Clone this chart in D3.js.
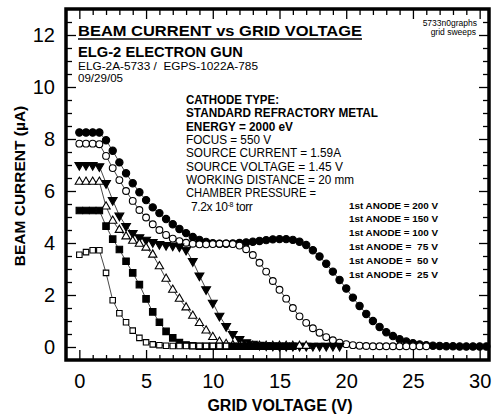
<!DOCTYPE html>
<html>
<head>
<meta charset="utf-8">
<title>Beam current vs grid voltage</title>
<script src="https://d3js.org/d3.v7.min.js"></script>
<style>
  body { margin: 0; background: #fff; }
  svg text { font-family: "Liberation Sans", Arial, sans-serif; fill: #000; }
</style>
</head>
<body>
<div id="chart"></div>
<script>
// grid voltage (V) of each sample
const volts = [0,0.5,1,1.5,2,2.5,3,3.5,4,4.5,5,5.5,6,6.5,7,7.5,8,8.5,9,9.5,10,10.5,11,11.5,12,12.5,13,13.5,14,14.5,15,15.5,16,16.5,17,17.5,18,18.5,19,19.5,20,20.5,21,21.5,22,22.5,23,23.5,24,24.5,25,25.5,26,26.5,27,27.5,28,28.5,29,29.5,30,30.5];

// beam current (uA) for each 1st anode setting, same order as volts
const anode200 = [8.25,8.25,8.25,8.25,7.95,7.55,7.1,6.68,6.3,5.95,5.65,5.37,5.15,4.92,4.72,4.54,4.38,4.23,4.12,4.04,3.99,3.97,3.97,3.98,4.0,4.02,4.05,4.08,4.11,4.14,4.15,4.15,4.12,4.05,3.92,3.72,3.48,3.2,2.9,2.58,2.25,1.9,1.58,1.27,1.0,0.77,0.57,0.42,0.3,0.21,0.15,0.1,0.07,0.05,0.04,0.03,0.03,0.02,0.02,0.02,0.02,0.02];
const anode150 = [7.82,7.82,7.82,7.8,7.35,6.88,6.42,6.0,5.62,5.27,4.98,4.72,4.5,4.31,4.17,4.07,4.01,3.97,3.95,3.95,3.96,3.97,3.98,3.96,3.9,3.76,3.54,3.24,2.9,2.54,2.2,1.86,1.5,1.18,0.93,0.72,0.55,0.38,0.26,0.17,0.11,0.07,0.05,0.04,0.03,0.03,0.03,0.03,0.03,0.03,0.03,0.03,0.03];
const anode100 = [7.0,7.0,7.0,6.95,6.3,5.65,5.05,4.65,4.38,4.22,4.12,4.03,3.96,3.92,3.9,3.86,3.74,3.3,2.75,2.22,1.7,1.2,0.8,0.5,0.3,0.18,0.12,0.08,0.06,0.05,0.04,0.04,0.04,0.04,0.04,0.04,0.04,0.04,0.04,0.04];
const anode75 = [6.35,6.35,6.35,6.35,5.4,4.85,4.5,4.25,4.08,3.97,3.82,3.55,3.1,2.62,2.2,1.85,1.52,1.2,0.92,0.63,0.38,0.2,0.11,0.07,0.05,0.04,0.04,0.04,0.04,0.04,0.04,0.04,0.04,0.04,0.04];
const anode50 = [5.25,5.25,5.25,5.25,4.65,4.15,3.75,3.3,2.85,2.4,1.85,1.35,0.95,0.6,0.35,0.17,0.08,0.05,0.03,0.03,0.03,0.03,0.03,0.03,0.03,0.03,0.03,0.03,0.03,0.03,0.03,0.03,0.03];
const anode25 = [3.55,3.65,3.72,3.72,2.85,1.8,1.3,0.95,0.63,0.35,0.18,0.1,0.07,0.05,0.04,0.04,0.04,0.04,0.04,0.04,0.04,0.04,0.04];

const xMajor = [0,5,10,15,20,25,30];
const yMajor = [0,2,4,6,8,10,12];

const legendLabels = ["1st ANODE = 200 V","1st ANODE = 150 V","1st ANODE = 100 V","1st ANODE =  75 V","1st ANODE =  50 V","1st ANODE =  25 V"];
const headerLines = ["CATHODE TYPE:","STANDARD REFRACTORY METAL","ENERGY = 2000 eV","FOCUS = 550 V","SOURCE CURRENT = 1.59A","SOURCE VOLTAGE = 1.45 V","WORKING DISTANCE = 20 mm","CHAMBER PRESSURE ="];

const W = 492, H = 420;
const svg = d3.select("#chart").append("svg")
    .attr("width", W)
    .attr("height", H);

const x = d3.scaleLinear().domain([-1, 30.7]).range([66, 489]);
const y = d3.scaleLinear().domain([-0.5, 13]).range([360, 9]);

// minor ticks: 1 V on x, 0.5 uA on y
const xMinor = d3.range(0, 31, 1).filter(v => v % 5 !== 0);
const yMinor = d3.range(0, 13, 0.5).filter(v => v % 2 !== 0);

function tickAxis(axis, pos, vals, size, labels) {
    const g = svg.append("g")
        .attr("transform", pos)
        .call(axis.tickValues(vals).tickSize(size).tickFormat(labels ? d3.format("d") : ""));
    g.select(".domain").remove();
    g.selectAll("line").attr("stroke", "#000").attr("stroke-width", 1.3);
    return g;
}

// ticks all point inward
const bx = tickAxis(d3.axisBottom(x).tickPadding(14), "translate(0,360)", xMajor, -10, true);
tickAxis(d3.axisBottom(x), "translate(0,360)", xMinor, -5, false);
tickAxis(d3.axisTop(x), "translate(0,9)", xMajor, -10, false);
tickAxis(d3.axisTop(x), "translate(0,9)", xMinor, -6, false);
const ly = tickAxis(d3.axisLeft(y).tickPadding(11), "translate(66,0)", yMajor, -10, true);
tickAxis(d3.axisLeft(y), "translate(66,0)", yMinor, -6, false);
tickAxis(d3.axisRight(y), "translate(489,0)", yMajor, -10, false);
tickAxis(d3.axisRight(y), "translate(489,0)", yMinor, -6, false);

bx.selectAll("text").style("font-size", "20px").attr("font-family", null);
ly.selectAll("text").style("font-size", "20px").attr("font-family", null);

// frame
svg.append("rect")
    .attr("x", 66).attr("y", 9)
    .attr("width", 423).attr("height", 351)
    .attr("fill", "none")
    .attr("stroke", "#000")
    .attr("stroke-width", 3.5);

// series, drawn 200 V first so the low anode curves sit on top
const series = [
    { vals: anode200, type: d3.symbolCircle, fill: "#000", size: 42, rot: 0 },
    { vals: anode150, type: d3.symbolCircle, fill: "#fff", size: 36, rot: 0 },
    { vals: anode100, type: d3.symbolTriangle, fill: "#000", size: 34, rot: 180 },
    { vals: anode75, type: d3.symbolTriangle, fill: "#fff", size: 30, rot: 0 },
    { vals: anode50, type: d3.symbolSquare, fill: "#000", size: 42, rot: 0 },
    { vals: anode25, type: d3.symbolSquare, fill: "#fff", size: 30, rot: 0 }
];

const line = d3.line()
    .x((d, i) => x(volts[i]))
    .y(d => y(d));

series.forEach(function(s) {
    svg.append("path")
        .datum(s.vals)
        .attr("d", line)
        .attr("fill", "none")
        .attr("stroke", "#333")
        .attr("stroke-width", 0.9);

    svg.append("g").selectAll("path")
        .data(s.vals)
        .join("path")
        .attr("d", d3.symbol().type(s.type).size(s.size))
        .attr("transform", (d, i) => `translate(${x(volts[i])},${y(d)}) rotate(${s.rot})`)
        .attr("fill", s.fill)
        .attr("stroke", "#000")
        .attr("stroke-width", 1.1);
});

// title block
svg.append("text")
    .attr("x", 78).attr("y", 36)
    .attr("textLength", 284).attr("lengthAdjust", "spacingAndGlyphs")
    .style("font-size", "15.5px").style("font-weight", "bold")
    .text("BEAM CURRENT vs GRID VOLTAGE");
svg.append("line")
    .attr("x1", 78).attr("x2", 362)
    .attr("y1", 39).attr("y2", 39)
    .attr("stroke", "#000").attr("stroke-width", 1.6);

svg.append("text").attr("x", 78).attr("y", 57)
    .attr("textLength", 165).attr("lengthAdjust", "spacingAndGlyphs")
    .style("font-size", "14px").style("font-weight", "bold")
    .text("ELG-2 ELECTRON GUN");
svg.append("text").attr("x", 78).attr("y", 70)
    .attr("textLength", 180).attr("lengthAdjust", "spacingAndGlyphs")
    .style("font-size", "11px").style("white-space", "pre")
    .text("ELG-2A-5733 /  EGPS-1022A-785");
svg.append("text").attr("x", 78).attr("y", 82)
    .attr("textLength", 45).attr("lengthAdjust", "spacingAndGlyphs")
    .style("font-size", "11px")
    .text("09/29/05");

svg.append("text").attr("x", 477).attr("y", 26)
    .attr("text-anchor", "end")
    .style("font-size", "8.5px")
    .text("5733n0graphs");
svg.append("text").attr("x", 476).attr("y", 35)
    .attr("text-anchor", "end")
    .style("font-size", "8.5px")
    .text("grid sweeps");

// test conditions
const headerWidths = [93, 192, 107, 85, 155, 157, 168, 130];
headerLines.forEach(function(t, i) {
    svg.append("text")
        .attr("x", 186).attr("y", 104 + i * 13.3)
        .attr("textLength", headerWidths[i]).attr("lengthAdjust", "spacingAndGlyphs")
        .style("font-size", "12.5px")
        .style("font-weight", i < 3 ? "bold" : "normal")
        .text(t);
});
const press = svg.append("text")
    .attr("x", 191).attr("y", 104 + 8 * 13.3 + 0.5)
    .style("font-size", "12px")
    .style("letter-spacing", "-0.4px");
press.append("tspan").text("7.2x 10");
press.append("tspan").attr("dy", -4).style("font-size", "7px").text("-8");
press.append("tspan").attr("dy", 4).text(" torr");

// anode legend
legendLabels.forEach(function(t, i) {
    svg.append("text")
        .attr("x", 349).attr("y", 208.5 + i * 13.8)
        .attr("textLength", 89).attr("lengthAdjust", "spacingAndGlyphs")
        .style("font-size", "9px").style("font-weight", "bold")
        .style("white-space", "pre")
        .text(t);
});

// axis titles
svg.append("text")
    .attr("x", 280).attr("y", 411)
    .attr("text-anchor", "middle")
    .style("font-size", "16px").style("font-weight", "bold")
    .text("GRID VOLTAGE (V)");
svg.append("text")
    .attr("transform", "translate(25,186) rotate(-90)")
    .attr("text-anchor", "middle")
    .style("font-size", "15.5px").style("font-weight", "bold")
    .text("BEAM CURRENT (\u00B5A)");
</script>
</body>
</html>
